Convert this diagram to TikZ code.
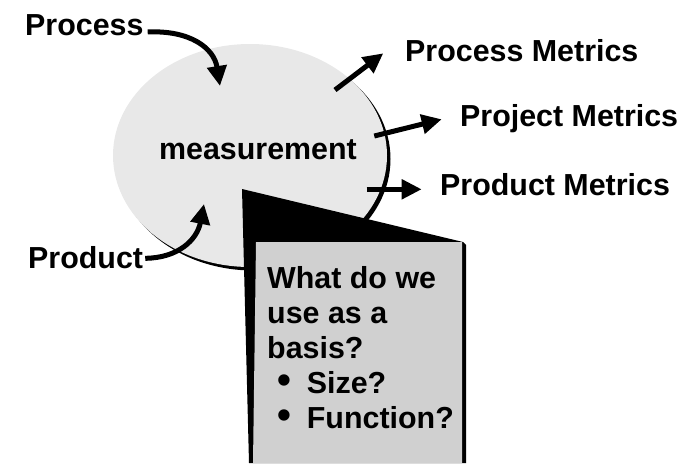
\documentclass[tikz,border=0pt]{standalone}
\usepackage{fontspec}
\setmainfont{Liberation Sans}
\usetikzlibrary{arrows.meta, shapes.geometric, positioning}
\definecolor{blobgray}{RGB}{232,232,232}
\definecolor{cardgray}{RGB}{208,208,208}
\tikzset{
	labelnode/.style={
			font=\fontsize{30.4}{35}\selectfont\bfseries,
			inner sep=0pt,
			anchor=base west
		},
	blobnode/.style={
			ellipse,
			minimum width=274,
			minimum height=223,
			inner sep=0pt
		},
	flowarrow/.style={
			line width=5pt,
			-{Triangle[length=20pt,width=19pt]}
		}
}
\newcommand{\bulletline}[1]{\makebox[39.7pt][l]{\hspace{10pt}\scalebox{1.3}{•}}#1}

\begin{document}
\begin{tikzpicture}[x=1pt,y=-1pt]
  \useasboundingbox (0,0) rectangle (693,463);

  % the measurement blob with its shadow
  \node[blobnode, fill=black] (blobshadow) at (253.5,159) {};
  \node[blobnode, fill=blobgray] (blob) at (250,155.5) {};
  \node[labelnode, anchor=base] (measure) at (258,159.3) {measurement};

  % inputs
  \node[labelnode] (process) at (25,35) {Process};
  \node[labelnode] (product) at (28,268.3) {Product};
  \coordinate (processin) at (220,86);
  \coordinate (productin) at (204,204);

  \draw[flowarrow] ([shift={(4,-3)}]process.base east)
    .. controls (190,30) and (214,48) .. (processin);
  \draw[flowarrow] ([shift={(2,-10)}]product.base east)
    .. controls (178,258) and (197,240) .. (productin);

  % outputs
  \node[labelnode] (procmetrics) at (405,61.7) {Process Metrics};
  \node[labelnode] (projmetrics) at (460,126) {Project Metrics};
  \node[labelnode] (prodmetrics) at (440,195) {Product Metrics};
  \coordinate (procout) at (335,90);
  \coordinate (procend) at (383.3,53.3);
  \coordinate (projout) at (374.3,136);
  \coordinate (projend) at (441.7,119.3);
  \coordinate (prodout) at (366.7,189.3);
  \coordinate (prodend) at (421.7,189.3);

  \draw[flowarrow] (procout) -- (procend);
  \draw[flowarrow] (projout) -- (projend);
  \draw[flowarrow] (prodout) -- (prodend);

  % the callout card
  \fill[black] (242,189) -- (463,242) -- (466,245) -- (466,463) -- (249,463) -- cycle;
  \fill[cardgray] (256,242) -- (462,242) -- (462,463) -- (253,463) -- cycle;
  % base of a multi-line node is its last line
  \node[labelnode, align=left] (question) at (267,428.3)
    {What do we\\use as a\\basis?\\\bulletline{Size?}\\\bulletline{Function?}};

\end{tikzpicture}
\end{document}
